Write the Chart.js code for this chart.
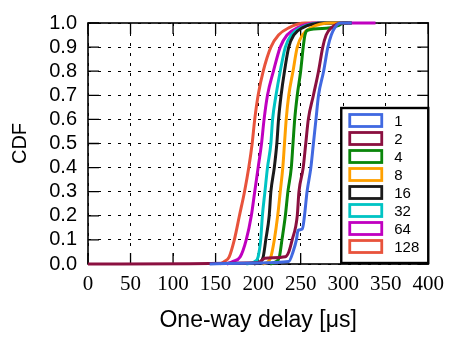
<!DOCTYPE html>
<html>
<head>
<meta charset="utf-8">
<script src="https://cdn.jsdelivr.net/npm/chart.js@4/dist/chart.umd.min.js"></script>
<style>
  html, body { margin: 0; padding: 0; background: #ffffff; }
  #wrap { width: 452px; height: 337px; }
</style>
</head>
<body>
<div id="wrap"><canvas id="c" width="452" height="337"></canvas></div>
<script>
// ---- data ----
const seriesLabels = ["1", "2", "4", "8", "16", "32", "64", "128"];
const seriesColors = ["#4169E1", "#8B1040", "#0A860A", "#FFA000", "#1A1A1A", "#00C4C4", "#C000C0", "#E8533C"];

const xTicks = [0, 50, 100, 150, 200, 250, 300, 350, 400];
const yTicks = [0.0, 0.1, 0.2, 0.3, 0.4, 0.5, 0.6, 0.7, 0.8, 0.9, 1.0];

// one-way delay [us] and CDF value for each series
const delay1 = [143, 200, 236, 241, 245, 247, 252, 254.5, 257.5, 262, 265, 268, 271, 277, 282, 286, 290, 297, 310];
const cdf1   = [0, 0.004, 0.01, 0.05, 0.1, 0.14, 0.145, 0.2, 0.3, 0.4, 0.5, 0.6, 0.7, 0.8, 0.9, 0.95, 0.98, 1.0, 1.0];

const delay2 = [0, 200, 208, 232, 236, 240, 246, 248, 253, 256, 259, 265, 271, 276, 280, 286, 300, 310];
const cdf2   = [0, 0.005, 0.024, 0.03, 0.05, 0.1, 0.2, 0.3, 0.4, 0.5, 0.6, 0.7, 0.8, 0.9, 0.95, 0.98, 1.0, 1.0];

const delay4 = [214, 221, 225, 228, 232, 235, 239, 241, 243, 246, 250, 253, 255, 258, 280, 295, 300, 310];
const cdf4   = [0, 0.01, 0.03, 0.1, 0.2, 0.3, 0.4, 0.5, 0.6, 0.7, 0.8, 0.9, 0.95, 0.97, 0.978, 0.99, 1.0, 1.0];

const delay8 = [205, 212, 215, 219, 223, 226, 229, 231, 233, 236, 241, 246, 252, 262, 285, 305];
const cdf8   = [0, 0.01, 0.03, 0.1, 0.2, 0.3, 0.4, 0.5, 0.6, 0.7, 0.8, 0.9, 0.95, 0.98, 1.0, 1.0];

const delay16 = [195, 203, 206, 209, 213, 215, 219, 222, 224, 227, 231, 236, 242, 252, 278, 305];
const cdf16   = [0, 0.01, 0.03, 0.1, 0.2, 0.3, 0.4, 0.5, 0.6, 0.7, 0.8, 0.9, 0.95, 0.98, 1.0, 1.0];

const delay32 = [186, 196, 200, 203, 205, 208, 211, 215, 217, 221, 226, 232, 239, 250, 275, 305];
const cdf32   = [0, 0.01, 0.03, 0.1, 0.2, 0.3, 0.4, 0.5, 0.6, 0.7, 0.8, 0.9, 0.95, 0.98, 1.0, 1.0];

const delay64 = [163, 170, 179, 186, 192, 196, 200, 204, 207, 211, 218, 226, 234, 246, 268, 338];
const cdf64   = [0, 0.01, 0.03, 0.1, 0.2, 0.3, 0.4, 0.5, 0.6, 0.7, 0.8, 0.9, 0.95, 0.98, 1.0, 1.0];

const delay128 = [155, 160, 166, 172, 178, 184, 189, 193, 196, 200, 206, 215, 224, 236, 255, 280];
const cdf128   = [0, 0.01, 0.03, 0.1, 0.2, 0.3, 0.4, 0.5, 0.6, 0.7, 0.8, 0.9, 0.95, 0.98, 1.0, 1.0];

const allDelays = [delay1, delay2, delay4, delay8, delay16, delay32, delay64, delay128];
const allCdfs   = [cdf1, cdf2, cdf4, cdf8, cdf16, cdf32, cdf64, cdf128];

// ---- build chart ----
function toPoints(xs, ys) { return xs.map((x, i) => ({ x: x, y: ys[i] })); }

const datasets = seriesLabels.map((lab, i) => ({
  label: lab,
  data: toPoints(allDelays[i], allCdfs[i]),
  borderColor: seriesColors[i],
  backgroundColor: seriesColors[i],
  borderWidth: 3,
  pointRadius: 0,
  fill: false,
  tension: 0,
  cubicInterpolationMode: 'monotone',
  clip: 4
}));

const TICK_LEN = 11;

const framePlugin = {
  id: 'frame',
  beforeDatasetsDraw(chart) {
    const { ctx, chartArea: a, scales } = chart;
    ctx.save();
    ctx.strokeStyle = '#000';
    ctx.lineWidth = 1.6;
    ctx.setLineDash([]);
    ctx.strokeRect(a.left, a.top, a.right - a.left, a.bottom - a.top);
    ctx.lineWidth = 1.3;
    ctx.beginPath();
    scales.x.ticks.forEach((t, i) => {
      const px = scales.x.getPixelForTick(i);
      ctx.moveTo(px, a.bottom); ctx.lineTo(px, a.bottom - TICK_LEN);
      ctx.moveTo(px, a.top); ctx.lineTo(px, a.top + TICK_LEN);
    });
    scales.y.ticks.forEach((t, i) => {
      const py = scales.y.getPixelForTick(i);
      ctx.moveTo(a.left, py); ctx.lineTo(a.left + TICK_LEN, py);
      ctx.moveTo(a.right, py); ctx.lineTo(a.right - TICK_LEN, py);
    });
    ctx.stroke();
    ctx.restore();
  }
};

const boxLegendPlugin = {
  id: 'boxLegend',
  afterDatasetsDraw(chart) {
    const { ctx, chartArea: a } = chart;
    const w = 87, h = 155;
    const left = a.right - w, top = a.bottom - h - 1;
    ctx.save();
    ctx.fillStyle = '#fff';
    ctx.fillRect(left, top, w, h);
    ctx.strokeStyle = '#000';
    ctx.lineWidth = 2.4;
    ctx.strokeRect(left, top, w, h);
    ctx.font = '15px "Liberation Sans", Arial, sans-serif';
    ctx.textBaseline = 'middle';
    ctx.textAlign = 'left';
    chart.data.datasets.forEach((ds, i) => {
      const cy = top + 12.5 + i * 18;
      ctx.strokeStyle = ds.borderColor;
      ctx.lineWidth = 2.8;
      ctx.strokeRect(left + 8.5, cy - 6, 32, 12);
      ctx.fillStyle = '#000';
      ctx.fillText(ds.label, left + 53, cy + 1);
    });
    ctx.restore();
  }
};

new Chart(document.getElementById('c'), {
  type: 'line',
  data: { datasets: datasets },
  options: {
    responsive: false,
    animation: false,
    devicePixelRatio: 1,
    layout: { padding: { left: 0, top: 14, right: 19, bottom: 0 } },
    plugins: {
      legend: { display: false },
      tooltip: { enabled: false }
    },
    scales: {
      x: {
        type: 'linear',
        min: xTicks[0],
        max: xTicks[xTicks.length - 1],
        afterBuildTicks(scale) { scale.ticks = xTicks.map(v => ({ value: v })); },
        afterFit(scale) { scale.height = 73; },
        ticks: {
          color: '#000',
          padding: 8,
          maxRotation: 0,
          autoSkip: false,
          font: { family: '"Liberation Serif", "Times New Roman", serif', size: 21 },
          callback: (v) => String(v)
        },
        grid: { color: '#000', lineWidth: 1, drawTicks: false },
        border: { display: false, dash: [3, 7] },
        title: {
          display: true,
          text: 'One-way delay [μs]',
          color: '#000',
          font: { family: '"Liberation Sans", Arial, sans-serif', size: 23 },
          padding: { top: 0, bottom: 3 }
        }
      },
      y: {
        type: 'linear',
        min: yTicks[0],
        max: yTicks[yTicks.length - 1],
        afterBuildTicks(scale) { scale.ticks = yTicks.map(v => ({ value: v })); },
        afterFit(scale) { scale.width = 88; },
        ticks: {
          color: '#000',
          padding: 11,
          autoSkip: false,
          font: { family: '"Liberation Sans", Arial, sans-serif', size: 20 },
          callback: (v) => Number(v).toFixed(1)
        },
        grid: { color: '#000', lineWidth: 1, drawTicks: false },
        border: { display: false, dash: [3, 7] },
        title: {
          display: true,
          text: 'CDF',
          color: '#000',
          font: { family: '"Liberation Sans", Arial, sans-serif', size: 20 },
          padding: { top: 8, bottom: 0 }
        }
      }
    }
  },
  plugins: [framePlugin, boxLegendPlugin]
});
</script>
</body>
</html>
